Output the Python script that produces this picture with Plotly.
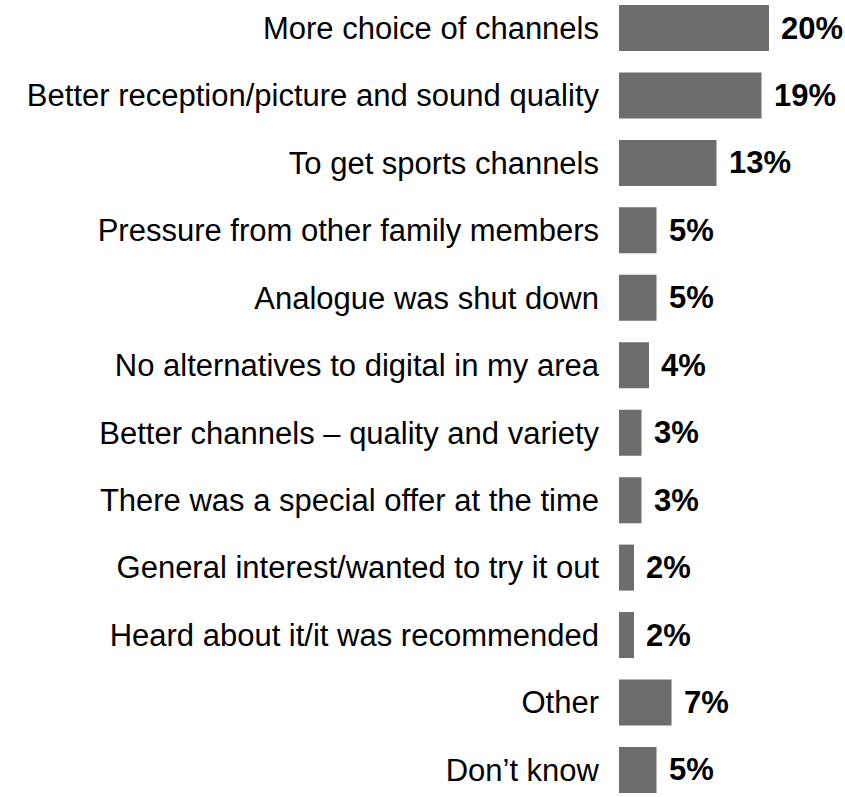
import plotly.graph_objects as go

categories = [
    "More choice of channels",
    "Better reception/picture and sound quality",
    "To get sports channels",
    "Pressure from other family members",
    "Analogue was shut down",
    "No alternatives to digital in my area",
    "Better channels \u2013 quality and variety",
    "There was a special offer at the time",
    "General interest/wanted to try it out",
    "Heard about it/it was recommended",
    "Other",
    "Don\u2019t know",
]
values = [20, 19, 13, 5, 5, 4, 3, 3, 2, 2, 7, 5]

W, H = 845, 797
left = 619
px_per_pct = 7.5
row_px = 67.45
first_center = 28

fig = go.Figure(
    go.Bar(
        x=values,
        y=categories,
        orientation="h",
        marker=dict(color="#6d6d6d", line=dict(width=0)),
        width=46 / row_px,
        hoverinfo="skip",
    )
)

for cat, v in zip(categories, values):
    fig.add_annotation(
        x=v, y=cat, text=f"<b>{v}%</b>", showarrow=False,
        xanchor="left", yanchor="middle", xshift=10,
        font=dict(family="Liberation Sans, Arial, sans-serif", size=31, color="#000000"),
    )

top = -first_center / row_px
bottom = top + H / row_px

fig.update_layout(
    width=W, height=H,
    margin=dict(l=left, r=0, t=0, b=0, pad=0),
    paper_bgcolor="white", plot_bgcolor="white",
    showlegend=False,
    font=dict(family="Liberation Sans, Arial, sans-serif", size=31, color="#000000"),
    xaxis=dict(range=[0, (W - left) / px_per_pct], visible=False, fixedrange=True),
    yaxis=dict(
        type="category",
        categoryorder="array", categoryarray=categories,
        range=[bottom, top],
        showgrid=False, zeroline=False, showline=False,
        ticks="", ticklabelstandoff=19,
        tickfont=dict(size=31),
        fixedrange=True,
    ),
)

fig.write_html("out.html")
